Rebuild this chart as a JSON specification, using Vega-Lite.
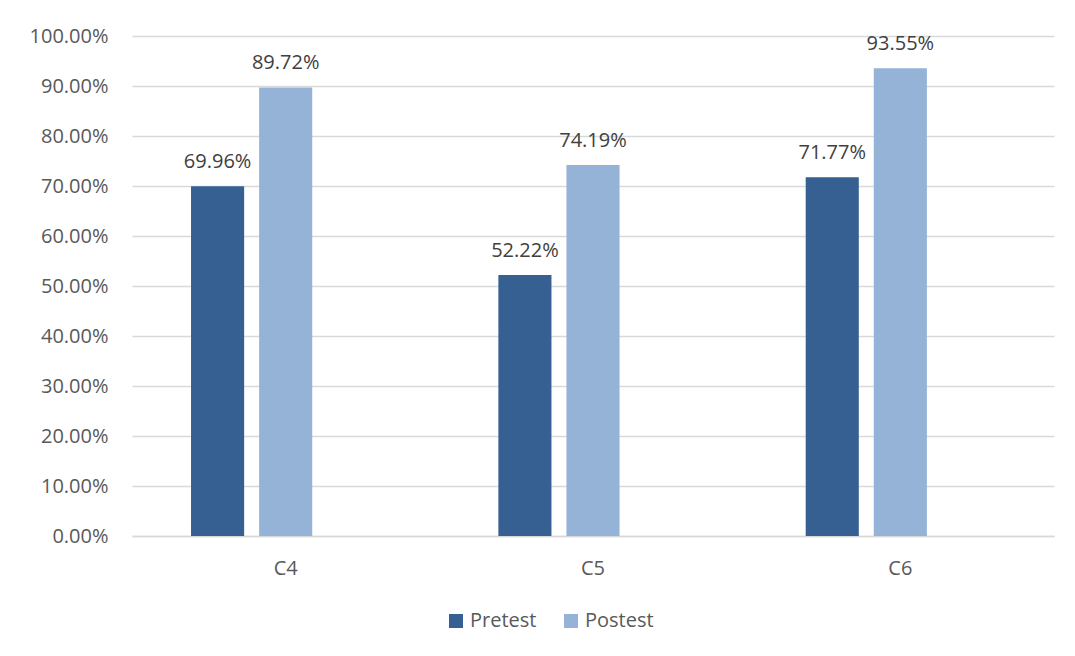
{
  "$schema": "https://vega.github.io/schema/vega-lite/v6.json",
  "width": 922,
  "height": 500,
  "autosize": {"type": "none"},
  "padding": {"left": 132, "top": 36, "right": 21, "bottom": 120},
  "background": "white",
  "config": {"view": {"stroke": null}, "font": "Open Sans"},
  "data": {
    "values": [
      {"cat": "C4", "series": "Pretest", "value": 0.6996},
      {"cat": "C4", "series": "Postest", "value": 0.8972},
      {"cat": "C5", "series": "Pretest", "value": 0.5222},
      {"cat": "C5", "series": "Postest", "value": 0.7419},
      {"cat": "C6", "series": "Pretest", "value": 0.7177},
      {"cat": "C6", "series": "Postest", "value": 0.9355}
    ]
  },
  "encoding": {
    "x": {
      "field": "cat",
      "type": "nominal",
      "scale": {"paddingInner": 0, "paddingOuter": 0},
      "axis": {
        "title": null,
        "labelAngle": 0,
        "labelFontSize": 20,
        "labelColor": "#595959",
        "labelPadding": 22,
        "ticks": false,
        "domainColor": "#d9d9d9",
        "domainWidth": 1.3,
        "grid": false
      }
    },
    "xOffset": {
      "field": "series",
      "type": "nominal",
      "scale": {"domain": ["Pretest", "Postest", "Blank"], "paddingInner": 0.22, "paddingOuter": 0.867}
    },
    "y": {
      "field": "value",
      "type": "quantitative",
      "scale": {"domain": [0, 1]},
      "axis": {
        "title": null,
        "format": ".2%",
        "tickCount": 10,
        "labelFontSize": 20,
        "labelColor": "#595959",
        "labelPadding": 24,
        "ticks": false,
        "domain": false,
        "gridColor": "#d9d9d9",
        "gridWidth": 1.3
      }
    }
  },
  "layer": [
    {
      "mark": {"type": "bar"},
      "encoding": {
        "color": {
          "field": "series",
          "type": "nominal",
          "scale": {"domain": ["Pretest", "Postest"], "range": ["#366092", "#95B3D7"]},
          "legend": {
            "orient": "none",
            "direction": "horizontal",
            "legendX": 314,
            "legendY": 575,
            "title": null,
            "symbolType": "square",
            "symbolSize": 196,
            "symbolStrokeWidth": 0,
            "labelFontSize": 20,
            "labelColor": "#595959",
            "labelOffset": 4,
            "columnPadding": 24,
            "padding": 0
          }
        }
      }
    },
    {
      "mark": {"type": "text", "baseline": "alphabetic", "dy": -18, "fontSize": 20, "color": "#404040"},
      "encoding": {"text": {"field": "value", "type": "quantitative", "format": ".2%"}}
    }
  ]
}
